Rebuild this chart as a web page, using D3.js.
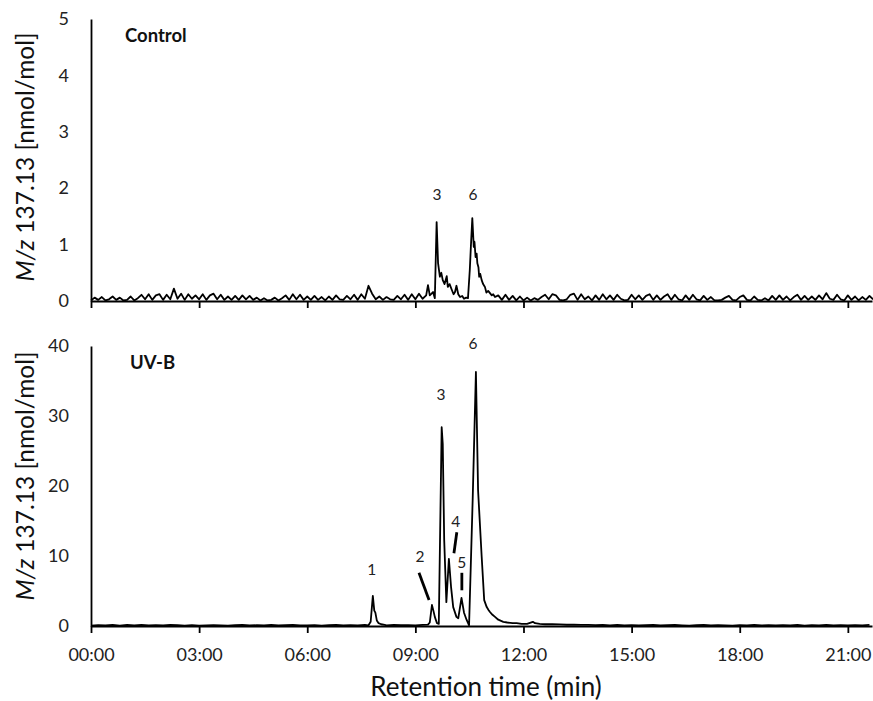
<!DOCTYPE html>
<html>
<head>
<meta charset="utf-8">
<script src="https://cdn.jsdelivr.net/npm/d3@7"></script>
<style>
  body { margin: 0; background: #fff; }
  svg { display: block; font-family: Lato, "Open Sans", sans-serif; }
</style>
</head>
<body>
<svg id="chart"></svg>
<script>
const W = 873, H = 701;

// retention time axis (minutes)
const xMax = 21.67;
const xTicks = [0, 3, 6, 9, 12, 15, 18, 21];

// ---- Control: baseline sampled every 0.1 min ----
const controlStep = 0.1;
const controlBase = [
  0.01,0.06,0.02,0.07,0.01,0.03,0.08,0.02,0.06,0.01,
  0.02,0.08,0.01,0.05,0.11,0.03,0.12,0.02,0.10,0.12,
  0.02,0.11,0.03,0.22,0.04,0.13,0.02,0.12,0.04,0.10,
  0.03,0.12,0.02,0.10,0.13,0.03,0.11,0.02,0.08,0.02,
  0.09,0.02,0.10,0.03,0.09,0.02,0.06,0.01,0.05,0.01,
  0.02,0.06,0.01,0.05,0.10,0.02,0.12,0.03,0.11,0.02,
  0.08,0.02,0.09,0.02,0.07,0.01,0.08,0.02,0.10,0.03,
  0.02,0.09,0.03,0.11,0.02,0.12,0.04,0.27,0.13,0.03,
  0.08,0.02,0.07,0.03,0.02,0.09,0.03,0.11,0.02,0.12,
  0.03,0.13,0.04,0.11,0.16,0.05,0.14,0.20,0.10,0.06,
  0.08,0.06,0.10,0.07,0.05,0.09,0.06,0.08,0.05,0.07,
  0.06,0.08,0.05,0.10,0.02,0.11,0.02,0.09,0.01,0.08,
  0.01,0.06,0.01,0.05,0.02,0.07,0.11,0.03,0.12,0.10,
  0.02,0.01,0.03,0.11,0.13,0.02,0.12,0.03,0.08,0.01,
  0.10,0.02,0.12,0.03,0.10,0.02,0.11,0.04,0.01,0.02,
  0.11,0.03,0.10,0.02,0.09,0.12,0.02,0.10,0.02,0.08,
  0.12,0.02,0.11,0.03,0.01,0.10,0.02,0.11,0.03,0.01,
  0.09,0.02,0.07,0.01,0.01,0.02,0.06,0.09,0.02,0.01,
  0.07,0.10,0.02,0.01,0.08,0.02,0.01,0.05,0.01,0.09,
  0.02,0.10,0.02,0.08,0.01,0.07,0.11,0.02,0.09,0.02,
  0.08,0.02,0.10,0.03,0.14,0.04,0.02,0.11,0.03,0.01,
  0.10,0.02,0.08,0.01,0.07,0.02,0.09,0.03
];
// peaks 3 and 6, [time, nmol/mol]
const controlPeaks = [
  [9.30,0.10],[9.35,0.28],[9.40,0.10],[9.45,0.13],[9.49,0.16],[9.54,0.05],
  [9.59,1.40],[9.63,0.67],[9.68,0.43],[9.72,0.50],[9.76,0.37],[9.81,0.30],
  [9.87,0.44],[9.90,0.25],[9.95,0.30],[10.01,0.20],[10.06,0.12],[10.10,0.16],
  [10.14,0.27],[10.19,0.12],[10.24,0.07],[10.30,0.09],[10.35,0.04],[10.41,0.06],
  [10.46,0.05],[10.51,0.55],[10.54,0.96],[10.58,1.47],[10.62,0.96],[10.64,1.05],
  [10.67,0.78],[10.70,0.84],[10.72,0.67],[10.75,0.60],[10.77,0.43],[10.80,0.48],
  [10.84,0.37],[10.88,0.30],[10.93,0.25],[10.97,0.15],[11.02,0.18],[11.07,0.14],
  [11.12,0.10],[11.16,0.12],[11.21,0.07]
];
const controlYTicks = [0, 1, 2, 3, 4, 5];
const controlLabels = [
  { text: "3", t: 9.60, v: 1.88 },
  { text: "6", t: 10.60, v: 1.88 }
];

// ---- UV-B: baseline sampled every 0.2 min ----
const uvbStep = 0.2;
const uvbBase = [
  0.05,0.12,0.08,0.15,0.06,
  0.14,0.10,0.16,0.07,0.13,
  0.09,0.15,0.11,0.06,0.12,
  0.05,0.08,0.13,0.10,0.06,
  0.11,0.15,0.07,0.12,0.09,
  0.14,0.08,0.12,0.16,0.07,
  0.10,0.13,0.06,0.11,0.15,
  0.08,0.12,0.09,0.14,0.10,
  0.12,0.09,0.15,0.11,0.13,
  0.10,0.16,0.12,0.18,0.14,
  0.20,0.20,0.20,0.20,0.20,
  0.80,0.60,0.50,0.40,0.40,
  0.30,0.30,0.50,0.30,0.25,
  0.22,0.18,0.20,0.15,0.17,
  0.12,0.15,0.10,0.14,0.09,
  0.13,0.08,0.12,0.15,0.07,
  0.11,0.14,0.09,0.06,0.12,
  0.15,0.08,0.13,0.10,0.06,
  0.12,0.09,0.14,0.07,0.11,
  0.08,0.13,0.10,0.15,0.06,
  0.12,0.09,0.14,0.08,0.11,
  0.07,0.13,0.10,0.15
];
const uvbPeak1 = [
  [7.70,0.10],[7.76,0.60],[7.82,4.30],[7.86,2.20],[7.89,1.90],[7.93,0.80],
  [7.98,0.40],[8.05,0.25],[8.15,0.15]
];
const uvbCluster = [
  [9.35,0.20],[9.40,0.50],[9.46,3.00],[9.50,2.20],[9.54,1.30],[9.60,0.40],
  [9.65,0.30],[9.73,28.4],[9.76,26.0],[9.80,12.3],[9.86,3.40],[9.93,9.60],
  [9.99,5.60],[10.05,2.70],[10.14,1.30],[10.19,1.10],[10.28,4.00],[10.35,1.90],
  [10.42,0.90],[10.49,0.10],[10.59,18.0],[10.68,36.3],[10.74,19.4],[10.84,9.90],
  [10.91,3.70],[10.98,2.70],[11.03,2.30],[11.07,2.00],[11.14,1.60],[11.21,1.30],
  [11.30,0.90],[11.44,0.60],[11.55,0.50],[11.70,0.40],[11.81,0.40],[11.95,0.30],
  [12.10,0.30],[12.26,0.60],[12.32,0.40],[12.45,0.30],[12.60,0.25]
];
const uvbYTicks = [0, 10, 20, 30, 40];
const uvbLabels = [
  { text: "1", t: 7.79, v: 8.0 },
  { text: "2", t: 9.13, v: 9.9 },
  { text: "3", t: 9.71, v: 33.0 },
  { text: "4", t: 10.12, v: 14.9 },
  { text: "5", t: 10.29, v: 9.1 },
  { text: "6", t: 10.60, v: 40.4 }
];
// leader lines, [[t1, v1], [t2, v2]]
const uvbLeaders = [
  [[9.10, 7.6], [9.38, 3.7]],
  [[10.15, 13.4], [10.07, 10.4]],
  [[10.29, 7.6], [10.29, 5.1]]
];

function buildSeries(base, step, segments) {
  const pts = base
    .map((v, i) => [+(i * step).toFixed(2), v])
    .filter(([t]) => !segments.some(s => t >= s[0][0] && t <= s[s.length - 1][0]));
  segments.forEach(s => pts.push(...s));
  return pts.sort((a, b) => a[0] - b[0]);
}

const svg = d3.select("#chart").attr("width", W).attr("height", H);

const x = d3.scaleLinear().domain([0, xMax]).range([91, 872]);

const panels = [
  {
    name: "Control",
    series: buildSeries(controlBase, controlStep, [controlPeaks]),
    y: d3.scaleLinear().domain([0, 5]).range([301, 19]),
    yTicks: controlYTicks,
    labels: controlLabels,
    leaders: [],
    showX: false,
    titleY: 157
  },
  {
    name: "UV-B",
    series: buildSeries(uvbBase, uvbStep, [uvbPeak1, uvbCluster]),
    y: d3.scaleLinear().domain([0, 40]).range([626, 346]),
    yTicks: uvbYTicks,
    labels: uvbLabels,
    leaders: uvbLeaders,
    showX: true,
    titleY: 476
  }
];

const fmt = m => d3.format("02d")(m) + ":00";

panels.forEach(p => {
  const g = svg.append("g");
  const y0 = p.y(0);

  // x axis
  const xa = g.append("g")
    .attr("transform", `translate(0,${y0})`)
    .call(d3.axisBottom(x).tickValues(xTicks).tickSize(7).tickSizeOuter(0)
      .tickPadding(15).tickFormat(p.showX ? fmt : ""));
  xa.select(".domain").attr("stroke-width", 1.8);
  xa.selectAll(".tick line").attr("stroke-width", 1.8);
  xa.selectAll(".tick text").attr("font-size", 18).attr("fill", "#222")
    .attr("font-family", "Lato, sans-serif");

  // y axis
  const ya = g.append("g")
    .attr("transform", `translate(${x(0)},0)`)
    .call(d3.axisLeft(p.y).tickValues(p.yTicks).tickSize(0).tickSizeOuter(0)
      .tickPadding(22).tickFormat(d3.format("d")));
  ya.select(".domain").attr("stroke-width", 1.8);
  ya.selectAll(".tick text").attr("font-size", 18).attr("fill", "#222")
    .attr("font-family", "Lato, sans-serif");

  // trace
  g.append("path")
    .datum(p.series)
    .attr("fill", "none")
    .attr("stroke", "#000")
    .attr("stroke-width", 1.8)
    .attr("stroke-linejoin", "round")
    .attr("d", d3.line().x(d => x(d[0])).y(d => p.y(d[1])));

  // panel name
  g.append("text")
    .attr("x", p.name === "Control" ? 125 : 130)
    .attr("y", p.y(p.yTicks[p.yTicks.length - 1]) + 23)
    .attr("font-size", 18.5)
    .attr("font-weight", "bold")
    .attr("fill", "#111")
    .text(p.name);

  // peak numbers
  g.selectAll(".pk")
    .data(p.labels)
    .join("text")
    .attr("x", d => x(d.t))
    .attr("y", d => p.y(d.v))
    .attr("dy", "0.35em")
    .attr("text-anchor", "middle")
    .attr("font-size", 15.5)
    .attr("fill", "#222")
    .text(d => d.text);

  g.selectAll(".leader")
    .data(p.leaders)
    .join("line")
    .attr("x1", d => x(d[0][0])).attr("y1", d => p.y(d[0][1]))
    .attr("x2", d => x(d[1][0])).attr("y2", d => p.y(d[1][1]))
    .attr("stroke", "#000")
    .attr("stroke-width", 2.8);

  // y title
  const yt = g.append("text")
    .attr("transform", `translate(25,${p.titleY}) rotate(-90)`)
    .attr("text-anchor", "middle")
    .attr("dy", "0.35em")
    .attr("font-size", 24.5)
    .attr("fill", "#111");
  yt.append("tspan").attr("font-style", "italic").text("M/z");
  yt.append("tspan").text(" 137.13 [nmol/mol]");
});

svg.append("text")
  .attr("x", 486)
  .attr("y", 696)
  .attr("text-anchor", "middle")
  .attr("font-size", 26)
  .attr("fill", "#111")
  .text("Retention time (min)");
</script>
</body>
</html>
